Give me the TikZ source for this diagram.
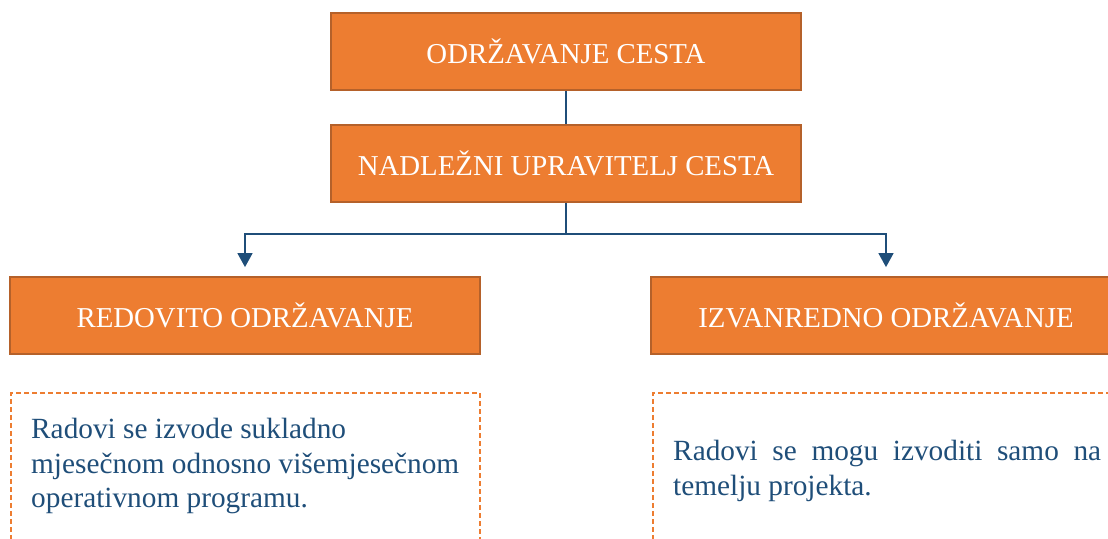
\documentclass[tikz,border=0pt]{standalone}
\usepackage{fontspec}
\setmainfont{Liberation Serif}
\usetikzlibrary{arrows.meta}
\definecolor{ora}{HTML}{ED7D31}
\definecolor{oraline}{HTML}{B5612A}
\definecolor{navy}{HTML}{1F4E79}
\begin{document}
\begin{tikzpicture}[x=1pt,y=-1pt,
  hdr/.style={draw=oraline, line width=1.8pt, fill=ora, text=white,
    minimum width=470pt, minimum height=77pt, inner sep=0pt,
    font=\fontsize{28.8}{34}\selectfont},
  conn/.style={draw=navy, line width=1.5pt},
  arr/.style={conn, -{Triangle[width=15pt,length=14pt]}, shorten >=9pt},
  notebox/.style={draw=ora, line width=1.5pt, dash pattern=on 5pt off 3pt,
    minimum width=469pt, minimum height=200pt, anchor=north west, inner sep=0pt},
  note/.style={text=navy, font=\fontsize{29.3}{34.5}\selectfont, inner sep=0pt, anchor=north west}]
\useasboundingbox (0,0) rectangle (1108,538);
\clip (0,0) rectangle (1108,538);
\node[hdr] (top) at (566,51.5) {ODRŽAVANJE CESTA};
\node[hdr] (mid) at (566,163.5) {NADLEŽNI UPRAVITELJ CESTA};
\node[hdr] (left) at (245,315.5) {REDOVITO ODRŽAVANJE};
\node[hdr] (right) at (886,315.5) {IZVANREDNO ODRŽAVANJE};
\coordinate (j) at (566,234);
\draw[conn] (top.south) -- (mid.north);
\draw[conn] (mid.south) -- (j);
\draw[arr] (j) -| (left.north);
\draw[arr] (j) -| (right.north);
\node[notebox] (bl) at (10,392) {};
\node[notebox] (br) at (652,392) {};
\node[note, align=left] (tl) at (31,418) {Radovi se izvode sukladno\\ mjesečnom odnosno višemjesečnom\\ operativnom programu.};
\node[note, text width=428pt, align=justify] (tr) at (673,440) {Radovi se mogu izvoditi samo na\linebreak temelju projekta.};
\end{tikzpicture}
\end{document}
